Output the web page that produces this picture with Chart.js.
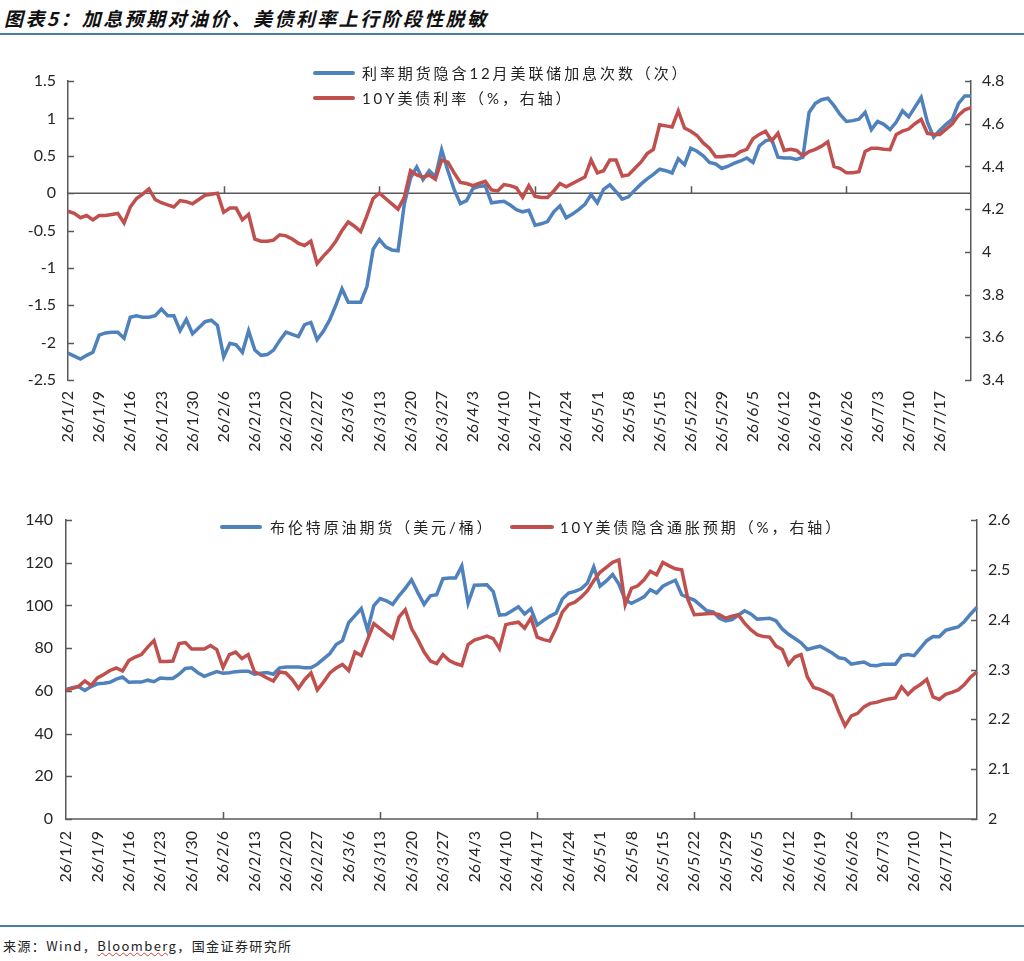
<!DOCTYPE html>
<html lang="zh-CN">
<head>
<meta charset="utf-8">
<title>加息预期对油价、美债利率上行阶段性脱敏</title>
<script src="https://cdn.jsdelivr.net/npm/chart.js@4.4.1/dist/chart.umd.min.js"></script>
<style>
    body { margin: 0; background: #fff; }
    #page { position: relative; width: 1024px; height: 961px; overflow: hidden; font-family: "Noto Sans CJK SC", sans-serif; }
    .title { position: absolute; left: 4px; top: 4px; font-size: 19px; font-weight: bold; font-style: italic; letter-spacing: 2.4px; color: #111; }
    .rule { position: absolute; left: 0; width: 1024px; height: 2px; background: #4a7ea6; }
    .source { position: absolute; left: 3px; top: 936px; font-size: 13px; letter-spacing: 1.4px; color: #222; }
    .source .sq { text-decoration: underline wavy #d04040; text-decoration-thickness: 1px; }
    canvas { position: absolute; left: 0; }
    .legend { position: absolute; font-size: 15px; letter-spacing: 2.9px; color: #222; white-space: nowrap; line-height: 20px; }
    .legend .swatch { position: absolute; top: 8px; height: 4px; border-radius: 2px; }
    .legend .num { font-family: Lato, sans-serif; }
</style>
</head>
<body>
<div id="page">
    <div class="title">图表5：加息预期对油价、美债利率上行阶段性脱敏</div>
    <div class="rule" style="top:33px"></div>

    <canvas id="rateChart" width="1024" height="440" style="top:40px"></canvas>
    <canvas id="oilChart" width="1024" height="420" style="top:490px"></canvas>

    <!-- legends (plain text, placed over the plot area like the original) -->
    <div class="legend" style="left:313px;top:63px"><span class="swatch" style="left:0;width:42px;background:#4F81BD"></span><span style="margin-left:49px">利率期货隐含<span class="num">12</span>月美联储加息次数（次）</span></div>
    <div class="legend" style="left:313px;top:88px"><span class="swatch" style="left:0;width:42px;background:#C0504D"></span><span style="margin-left:49px"><span class="num">10Y</span>美债利率（<span class="num">%</span>，右轴）</span></div>
    <div class="legend" style="left:220px;top:517px"><span class="swatch" style="left:0;width:42px;background:#4F81BD"></span><span style="margin-left:50px">布伦特原油期货（美元<span class="num">/</span>桶）</span></div>
    <div class="legend" style="left:510px;top:517px"><span class="swatch" style="left:0;width:44px;background:#C0504D"></span><span style="margin-left:50px"><span class="num">10Y</span>美债隐含通胀预期（<span class="num">%</span>，右轴）</span></div>

    <div class="rule" style="top:925px"></div>
    <div class="source">来源：Wind，<span class="sq">Bloomberg</span>，国金证券研究所</div>
</div>

<script>
// =========================================================
// Data (business days 26/1/2 - 26/7/24)
// =========================================================
const dates = [
    '26/1/2','26/1/5','26/1/6','26/1/7','26/1/8','26/1/9','26/1/12','26/1/13','26/1/14','26/1/15','26/1/16',
    '26/1/19','26/1/20','26/1/21','26/1/22','26/1/23','26/1/26','26/1/27','26/1/28','26/1/29','26/1/30',
    '26/2/2','26/2/3','26/2/4','26/2/5','26/2/6','26/2/9','26/2/10','26/2/11','26/2/12','26/2/13',
    '26/2/16','26/2/17','26/2/18','26/2/19','26/2/20','26/2/23','26/2/24','26/2/25','26/2/26','26/2/27',
    '26/3/2','26/3/3','26/3/4','26/3/5','26/3/6','26/3/9','26/3/10','26/3/11','26/3/12','26/3/13',
    '26/3/16','26/3/17','26/3/18','26/3/19','26/3/20','26/3/23','26/3/24','26/3/25','26/3/26','26/3/27',
    '26/3/30','26/3/31','26/4/1','26/4/2','26/4/3','26/4/6','26/4/7','26/4/8','26/4/9','26/4/10',
    '26/4/13','26/4/14','26/4/15','26/4/16','26/4/17','26/4/20','26/4/21','26/4/22','26/4/23','26/4/24',
    '26/4/27','26/4/28','26/4/29','26/4/30','26/5/1','26/5/4','26/5/5','26/5/6','26/5/7','26/5/8',
    '26/5/11','26/5/12','26/5/13','26/5/14','26/5/15','26/5/18','26/5/19','26/5/20','26/5/21','26/5/22',
    '26/5/25','26/5/26','26/5/27','26/5/28','26/5/29','26/6/1','26/6/2','26/6/3','26/6/4','26/6/5',
    '26/6/8','26/6/9','26/6/10','26/6/11','26/6/12','26/6/15','26/6/16','26/6/17','26/6/18','26/6/19',
    '26/6/22','26/6/23','26/6/24','26/6/25','26/6/26','26/6/29','26/6/30','26/7/1','26/7/2','26/7/3',
    '26/7/6','26/7/7','26/7/8','26/7/9','26/7/10','26/7/13','26/7/14','26/7/15','26/7/16','26/7/17',
    '26/7/20','26/7/21','26/7/22','26/7/23','26/7/24'
];

// 利率期货隐含12月美联储加息次数（次）
const hikeCount = [
    -2.14, -2.18, -2.22, -2.17, -2.13, -1.90, -1.87, -1.86, -1.86, -1.94,
    -1.66, -1.64, -1.66, -1.66, -1.64, -1.55, -1.64, -1.64, -1.84, -1.69,
    -1.88, -1.80, -1.72, -1.70, -1.77, -2.19, -2.01, -2.03, -2.13, -1.84,
    -2.10, -2.17, -2.16, -2.10, -1.97, -1.86, -1.89, -1.92, -1.76, -1.73,
    -1.96, -1.85, -1.70, -1.50, -1.28, -1.46, -1.46, -1.46, -1.25, -0.75,
    -0.62, -0.72, -0.76, -0.77, -0.15, 0.20, 0.35, 0.18, 0.30, 0.22,
    0.58, 0.30, 0.05, -0.14, -0.10, 0.06, 0.09, 0.10, -0.13, -0.12,
    -0.11, -0.16, -0.22, -0.25, -0.23, -0.43, -0.41, -0.38, -0.25, -0.17,
    -0.33, -0.28, -0.22, -0.15, -0.02, -0.13, 0.05, 0.11, 0.02, -0.08,
    -0.05, 0.04, 0.12, 0.19, 0.25, 0.32, 0.30, 0.27, 0.46, 0.38,
    0.60, 0.56, 0.50, 0.41, 0.39, 0.33, 0.36, 0.40, 0.43, 0.47,
    0.41, 0.63, 0.70, 0.72, 0.48, 0.47, 0.47, 0.45, 0.48, 1.08,
    1.20, 1.25, 1.27, 1.17, 1.05, 0.96, 0.97, 0.99, 1.08, 0.85,
    0.96, 0.92, 0.85, 0.95, 1.10, 1.02, 1.15, 1.28, 0.95, 0.75,
    0.84, 0.92, 0.99, 1.20, 1.30, 1.30
];

// 10Y美债利率（%，右轴）
const ust10y = [
    4.19, 4.18, 4.16, 4.17, 4.15, 4.17, 4.17, 4.175, 4.18, 4.135,
    4.21, 4.25, 4.27, 4.295, 4.245, 4.23, 4.22, 4.21, 4.24, 4.235,
    4.225, 4.245, 4.265, 4.27, 4.275, 4.185, 4.205, 4.205, 4.15, 4.175,
    4.06, 4.05, 4.05, 4.055, 4.08, 4.075, 4.06, 4.04, 4.03, 4.05,
    3.945, 3.98, 4.01, 4.05, 4.10, 4.14, 4.12, 4.095, 4.17, 4.25,
    4.275, 4.25, 4.225, 4.20, 4.255, 4.38, 4.36, 4.35, 4.36, 4.34,
    4.43, 4.42, 4.37, 4.325, 4.32, 4.31, 4.32, 4.33, 4.29, 4.285,
    4.315, 4.31, 4.30, 4.255, 4.31, 4.26, 4.255, 4.255, 4.285, 4.32,
    4.305, 4.32, 4.335, 4.35, 4.43, 4.37, 4.38, 4.43, 4.43, 4.355,
    4.36, 4.39, 4.42, 4.46, 4.48, 4.595, 4.59, 4.585, 4.66, 4.58,
    4.565, 4.545, 4.51, 4.485, 4.445, 4.445, 4.45, 4.45, 4.47, 4.48,
    4.53, 4.55, 4.565, 4.52, 4.555, 4.475, 4.48, 4.475, 4.45, 4.47,
    4.48, 4.495, 4.515, 4.40, 4.39, 4.37, 4.37, 4.375, 4.47, 4.485,
    4.485, 4.48, 4.478, 4.55, 4.565, 4.575, 4.60, 4.62, 4.555, 4.55,
    4.55, 4.575, 4.60, 4.64, 4.665, 4.675
];

// 布伦特原油期货（美元/桶）
const brent = [
    60.7, 61.5, 62.0, 60.2, 62.0, 63.3, 63.6, 64.0, 65.5, 66.5,
    64.0, 64.1, 64.1, 65.0, 64.3, 66.0, 65.8, 65.8, 67.8, 70.5,
    70.8, 68.5, 66.8, 68.0, 69.0, 68.2, 68.5, 69.0, 69.2, 69.2,
    67.8, 68.2, 68.6, 67.8, 70.8, 71.2, 71.2, 71.2, 70.8, 70.8,
    72.5, 75.0, 77.5, 81.7, 83.5, 92.0, 95.2, 98.5, 88.4, 99.9,
    103.2, 102.2, 100.5, 104.5, 108.0, 112.0, 106.0, 100.5, 104.5, 105.0,
    112.5, 112.8, 112.8, 118.5, 101.0, 109.5, 109.6, 109.7, 106.5, 95.5,
    95.7, 97.5, 99.4, 96.0, 98.5, 90.8, 93.0, 94.9, 96.4, 103.0,
    105.8, 106.6, 107.8, 110.5, 118.0, 109.0, 111.5, 114.5, 110.0, 102.5,
    101.0, 102.4, 104.0, 107.4, 105.8, 109.0, 110.5, 111.8, 105.0, 103.6,
    102.5, 100.0, 97.5, 97.0, 94.0, 92.8, 93.4, 95.4, 97.5, 96.0,
    93.6, 93.8, 94.0, 92.8, 89.0, 86.5, 84.5, 82.5, 79.4, 80.2,
    80.9, 79.4, 77.6, 75.5, 75.0, 72.5, 73.0, 73.5, 72.0, 71.8,
    72.4, 72.4, 72.4, 76.5, 77.0, 76.5, 80.0, 83.5, 85.4, 85.3,
    88.3, 89.2, 89.9, 92.5, 96.0, 99.2
];

// 10Y美债隐含通胀预期（%，右轴）
const breakeven = [
    2.259, 2.262, 2.266, 2.277, 2.268, 2.283, 2.290, 2.298, 2.303, 2.297,
    2.318, 2.325, 2.330, 2.345, 2.358, 2.316, 2.316, 2.317, 2.352, 2.354,
    2.341, 2.341, 2.341, 2.348, 2.340, 2.304, 2.330, 2.335, 2.322, 2.330,
    2.295, 2.290, 2.283, 2.277, 2.295, 2.293, 2.280, 2.262, 2.280, 2.293,
    2.259, 2.275, 2.293, 2.303, 2.310, 2.298, 2.335, 2.328, 2.360, 2.392,
    2.382, 2.372, 2.363, 2.405, 2.420, 2.382, 2.360, 2.335, 2.317, 2.312,
    2.330, 2.318, 2.312, 2.308, 2.350, 2.359, 2.363, 2.367, 2.362, 2.342,
    2.390, 2.393, 2.395, 2.383, 2.403, 2.365, 2.360, 2.357, 2.383, 2.415,
    2.430, 2.435, 2.445, 2.458, 2.478, 2.495, 2.505, 2.515, 2.520, 2.430,
    2.463, 2.468, 2.480, 2.497, 2.490, 2.515, 2.508, 2.502, 2.500, 2.440,
    2.410, 2.411, 2.412, 2.413, 2.410, 2.403, 2.407, 2.410, 2.393, 2.380,
    2.370, 2.366, 2.365, 2.347, 2.340, 2.310, 2.325, 2.330, 2.285, 2.264,
    2.260, 2.254, 2.247, 2.215, 2.187, 2.207, 2.212, 2.225, 2.232, 2.234,
    2.238, 2.241, 2.243, 2.265, 2.250, 2.262, 2.270, 2.280, 2.245, 2.240,
    2.250, 2.254, 2.259, 2.270, 2.285, 2.295
];

// label every 5th business day, up to 26/7/17
const labelStep = 5;

// =========================================================
// Shared styling
// =========================================================
const BLUE = '#4F81BD';
const RED = '#C0504D';
const AXIS = '#595959';
const TICK_FONT = { family: 'Lato, "Open Sans", sans-serif', size: 16 };
const X_FONT = { family: 'Lato, "Open Sans", sans-serif', size: 16 };

// Draws the inward tick marks and the horizontal base line (0 on the
// left axis for the top chart, the bottom edge for the oil chart)
const innerTicks = {
    id: 'innerTicks',
    beforeDatasetsDraw(chart, args, opts) {
        const ctx = chart.ctx;
        const area = chart.chartArea;
        const x = chart.scales.x;
        const base = opts.zeroLine ? chart.scales.yL.getPixelForValue(0) : area.bottom;

        ctx.save();
        ctx.strokeStyle = AXIS;
        ctx.lineWidth = 1.5;
        ctx.beginPath();
        ctx.moveTo(area.left, base);
        ctx.lineTo(area.right, base);

        x.ticks.forEach((t, i) => {
            if (i > 0 && i % labelStep === 0) {
                const px = Math.round(x.getPixelForTick(i)) + 0.5;
                ctx.moveTo(px, base);
                ctx.lineTo(px, base - 7);
            }
        });

        ['yL', 'yR'].forEach(id => {
            const s = chart.scales[id];
            const x0 = id === 'yL' ? area.left : area.right;
            const dir = id === 'yL' ? 1 : -1;
            s.ticks.forEach(t => {
                const py = Math.round(s.getPixelForValue(t.value)) + 0.5;
                ctx.moveTo(x0, py);
                ctx.lineTo(x0 + dir * 6, py);
            });
        });
        ctx.stroke();
        ctx.restore();
    }
};

function lineSet(label, data, color, axis, order) {
    return {
        label: label,
        data: data,
        yAxisID: axis,
        borderColor: color,
        backgroundColor: color,
        borderWidth: 3.5,
        pointRadius: 0,
        tension: 0,
        order: order
    };
}

function yAxis(side, min, max, step, width, pad) {
    return {
        position: side,
        min: min,
        max: max,
        ticks: {
            stepSize: step,
            padding: pad,
            font: TICK_FONT,
            color: '#262626',
            // "1" not "1.0", like the original
            callback: v => String(parseFloat(v.toFixed(2)))
        },
        grid: { display: false, drawTicks: false },
        border: { display: true, color: AXIS, width: 1.5 },
        afterFit: s => { s.width = width; }
    };
}

function xAxis(height, pad) {
    return {
        ticks: {
            autoSkip: false,
            minRotation: 90,
            maxRotation: 90,
            padding: pad,
            font: X_FONT,
            color: '#262626',
            callback: (v, i) => (i % labelStep === 0 && i < dates.length - 1) ? dates[i] : null
        },
        grid: { display: false, drawTicks: false },
        border: { display: false },
        afterFit: s => { s.height = height; }
    };
}

const common = {
    responsive: false,
    animation: false,
    events: [],
    plugins: { legend: { display: false }, tooltip: { enabled: false } }
};

// =========================================================
// 1. Rate hike expectations vs 10Y yield
// =========================================================
new Chart(document.getElementById('rateChart'), {
    type: 'line',
    data: {
        labels: dates,
        datasets: [
            lineSet('利率期货隐含12月美联储加息次数（次）', hikeCount, BLUE, 'yL', 2),
            lineSet('10Y美债利率（%，右轴）', ust10y, RED, 'yR', 1)
        ]
    },
    options: Object.assign({}, common, {
        layout: { padding: { top: 41, left: 0, right: 0, bottom: 0 } },
        scales: {
            x: xAxis(100, 11),
            yL: yAxis('left', -2.5, 1.5, 0.5, 68, 12),
            yR: yAxis('right', 3.4, 4.8, 0.2, 53, 11)
        },
        plugins: Object.assign({}, common.plugins, { innerTicks: { zeroLine: true } })
    }),
    plugins: [innerTicks]
});

// =========================================================
// 2. Brent vs 10Y breakeven
// =========================================================
new Chart(document.getElementById('oilChart'), {
    type: 'line',
    data: {
        labels: dates,
        datasets: [
            lineSet('布伦特原油期货（美元/桶）', brent, BLUE, 'yL', 2),
            lineSet('10Y美债隐含通胀预期（%，右轴）', breakeven, RED, 'yR', 1)
        ]
    },
    options: Object.assign({}, common, {
        layout: { padding: { top: 30, left: 0, right: 0, bottom: 0 } },
        scales: {
            x: xAxis(91, 12),
            yL: yAxis('left', 0, 140, 20, 66, 13),
            yR: yAxis('right', 2, 2.6, 0.1, 47, 11)
        },
        plugins: Object.assign({}, common.plugins, { innerTicks: { zeroLine: false } })
    }),
    plugins: [innerTicks]
});
</script>
</body>
</html>
